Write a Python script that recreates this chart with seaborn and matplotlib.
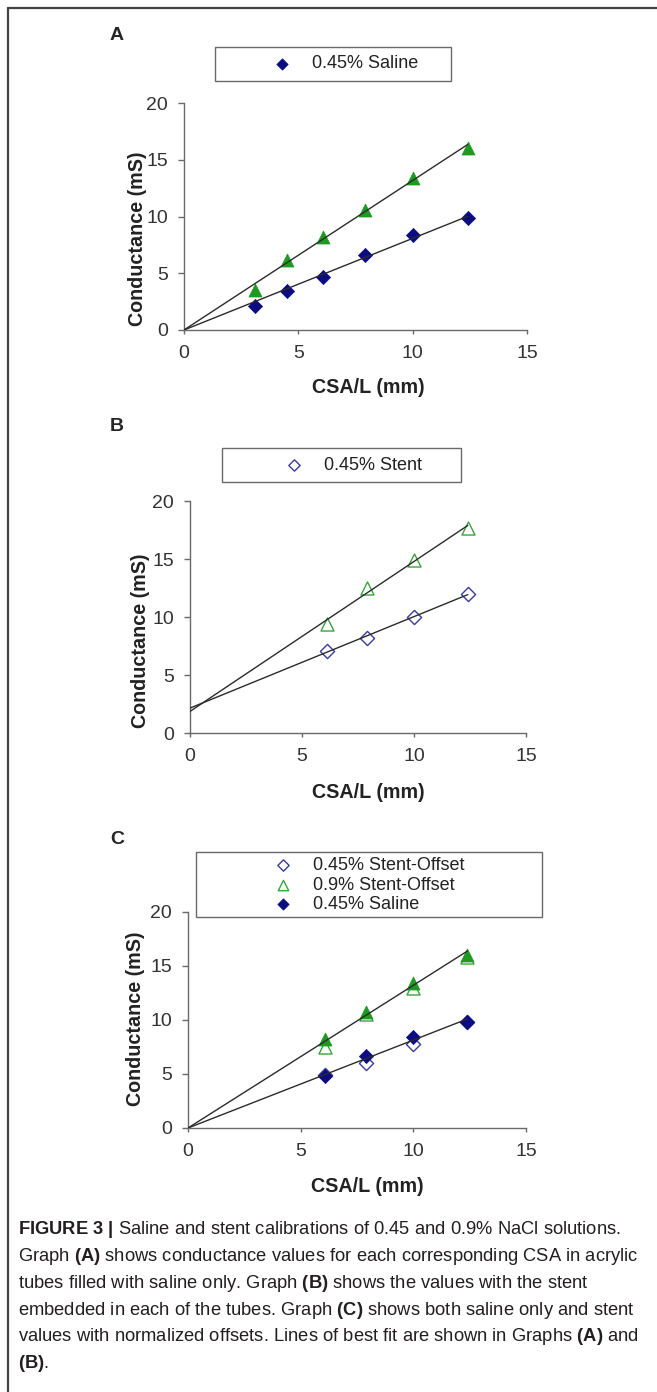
import numpy as np
import pandas as pd
import matplotlib
matplotlib.use('Agg')
import matplotlib.pyplot as plt
import seaborn as sns
from matplotlib.lines import Line2D
from matplotlib.patches import Rectangle

# data
# panel A - saline only
a_x = [3.1, 4.5, 6.1, 7.9, 10.0, 12.4]
a_saline045 = [2.1, 3.4, 4.7, 6.6, 8.4, 9.9]
a_saline09 = [3.5, 6.2, 8.2, 10.6, 13.4, 16.0]
# panel B - stent embedded
b_x = [6.1, 7.9, 10.0, 12.4]
b_stent045 = [7.1, 8.2, 10.0, 12.0]
b_stent09 = [9.4, 12.5, 14.9, 17.7]
# panel C - saline and stent with offsets
c_x = [6.1, 7.9, 10.0, 12.4]
c_offset045 = [4.9, 6.0, 7.8, 9.8]
c_offset09 = [7.5, 10.6, 13.0, 15.8]
c_saline045 = [4.8, 6.7, 8.4, 9.8]
c_saline09 = [8.2, 10.7, 13.4, 16.0]

x_ticks = [0, 5, 10, 15]
y_ticks = [0, 5, 10, 15, 20]

caption_lines = [
    r"$\mathbf{FIGURE\ 3\ |}$ Saline and stent calibrations of 0.45 and 0.9% NaCl solutions.",
    r"Graph $\mathbf{(A)}$ shows conductance values for each corresponding CSA in acrylic",
    r"tubes filled with saline only. Graph $\mathbf{(B)}$ shows the values with the stent",
    r"embedded in each of the tubes. Graph $\mathbf{(C)}$ shows both saline only and stent",
    r"values with normalized offsets. Lines of best fit are shown in Graphs $\mathbf{(A)}$ and",
    r"$\mathbf{(B)}$.",
]

sns.set_style('white')
plt.rcParams['font.family'] = ['Liberation Sans', 'DejaVu Sans']
plt.rcParams['mathtext.fontset'] = 'custom'
plt.rcParams['mathtext.rm'] = 'Liberation Sans'
plt.rcParams['mathtext.bf'] = 'Liberation Sans:bold'
plt.rcParams['mathtext.it'] = 'Liberation Sans:italic'

NAVY = '#0b0b82'
NAVY_OPEN = '#3b3b9e'
GREEN = '#1e9a22'
GREEN_OPEN = '#3aa33e'
LINE = '#2b2b2b'
W, H = 657, 1392

fig = plt.figure(figsize=(W / 100, H / 100), dpi=100)


def fx(px):
    return px / W


def fy(py):
    return 1 - py / H


def make_axes(left, right, bottom, top):
    return fig.add_axes([fx(left), fy(bottom), fx(right - left), (bottom - top) / H])


def style_axes(ax, ylab_x, ylab_y, xlab_x, xlab_y):
    ax.set_xlim(0, 15)
    ax.set_ylim(0, 20)
    ax.set_xticks(x_ticks)
    ax.set_yticks(y_ticks)
    sns.despine(ax=ax)
    for s in ['left', 'bottom']:
        ax.spines[s].set_color('#6a6a6a')
        ax.spines[s].set_linewidth(1.0)
    ax.tick_params(axis='y', direction='out', length=4.5, width=1, color='#6a6a6a',
                   pad=7, labelsize=14, labelcolor='#333333', left=True)
    ax.tick_params(axis='x', direction='out', length=3, width=1, color='#6a6a6a',
                   pad=8, labelsize=14, labelcolor='#333333', bottom=True)
    ax.set_xlabel('CSA/L (mm)', fontsize=14.2, fontweight='bold', color='#222222')
    ax.set_ylabel('Conductance (mS)', fontsize=14.2, fontweight='bold', color='#222222')
    ax.yaxis.set_label_coords(ylab_x, ylab_y)
    ax.xaxis.set_label_coords(xlab_x, xlab_y)
    ax.set_facecolor('none')


def fit_line(ax, x, y, through_origin):
    x = np.asarray(x)
    y = np.asarray(y)
    if through_origin:
        slope, icpt = (x * y).sum() / (x * x).sum(), 0.0
    else:
        slope, icpt = np.polyfit(x, y, 1)
    xs = np.array([0.0, x.max()])
    sns.lineplot(x=xs, y=slope * xs + icpt, ax=ax, color=LINE, lw=1.0, zorder=5)


def legend_box(left, right, top, bottom):
    fig.add_artist(Rectangle((fx(left), fy(bottom)), fx(right - left), (bottom - top) / H,
                             transform=fig.transFigure, fill=False,
                             edgecolor='#6a6a6a', lw=1.0))


filled_d = dict(marker='D', s=52, color=NAVY, edgecolor=NAVY, linewidth=0.5, zorder=3)
filled_t = dict(marker='^', s=88, color=GREEN, edgecolor=GREEN, linewidth=0.5, zorder=3)
open_d = dict(marker='D', s=52, facecolor='white', edgecolor=NAVY_OPEN, linewidth=1.0, zorder=3)
open_t = dict(marker='^', s=88, facecolor='white', edgecolor=GREEN_OPEN, linewidth=1.0, zorder=3)

# ---- panel A
axA = make_axes(184, 527, 330, 103)
sns.scatterplot(x=a_x, y=a_saline09, ax=axA, label='_nolegend_', **filled_t)
sns.scatterplot(x=a_x, y=a_saline045, ax=axA, label='0.45% Saline', **filled_d)
fit_line(axA, a_x, a_saline045, True)
fit_line(axA, a_x, a_saline09, True)
style_axes(axA, -0.108, 0.40, 0.536, -0.21)

# ---- panel B
axB = make_axes(190, 526, 733, 501)
sns.scatterplot(x=b_x, y=b_stent09, ax=axB, label='_nolegend_', **open_t)
sns.scatterplot(x=b_x, y=b_stent045, ax=axB, label='0.45% Stent', **open_d)
fit_line(axB, b_x, b_stent045, False)
fit_line(axB, b_x, b_stent09, False)
style_axes(axB, -0.119, 0.397, 0.53, -0.216)

# ---- panel C
axC = make_axes(188, 526, 1128, 912)
sns.scatterplot(x=c_x, y=c_offset045, ax=axC, label='0.45% Stent-Offset', **open_d)
sns.scatterplot(x=c_x, y=c_offset09, ax=axC, label='0.9% Stent-Offset', **open_t)
sns.scatterplot(x=c_x, y=c_saline09, ax=axC, label='_nolegend_', **filled_t)
sns.scatterplot(x=c_x, y=c_saline045, ax=axC, label='0.45% Saline', **filled_d)
fit_line(axC, c_x, c_saline045, True)
fit_line(axC, c_x, c_saline09, True)
style_axes(axC, -0.127, 0.505, 0.53, -0.227)

# legends: frameless entries + drawn box
for ax, order, xleft, ycen, box in [
    (axA, ['0.45% Saline'], 273, 64, (215, 451, 47, 81)),
    (axB, ['0.45% Stent'], 285, 465, (222, 461, 448, 482)),
    (axC, ['0.45% Stent-Offset', '0.9% Stent-Offset', '0.45% Saline'], 274, 885, (196, 542, 852, 917)),
]:
    h, l = ax.get_legend_handles_labels()
    lookup = dict(zip(l, h))
    leg = ax.legend([lookup[k] for k in order], order, loc='center left',
                    bbox_to_anchor=(fx(xleft), fy(ycen)), bbox_transform=fig.transFigure,
                    frameon=False, fontsize=13, handlelength=1.0, handletextpad=1.15,
                    borderpad=0, borderaxespad=0, labelspacing=0.15, markerscale=0.8)
    for t in leg.get_texts():
        t.set_color('#222222')
    legend_box(*box)

# panel letters
for letter, py in [('A', 35), ('B', 427), ('C', 840)]:
    fig.text(fx(117), fy(py), letter, fontsize=14, fontweight='bold', ha='center', va='center')

# caption
for i, line in enumerate(caption_lines):
    fig.text(fx(18), fy(1230 + i * 26.7), line, fontsize=13.2, color='#231f20', ha='left', va='center')

# frame lines (top and left)
fig.add_artist(Line2D([fx(8), 1.0], [fy(8), fy(8)], transform=fig.transFigure, color='#444444', lw=1.6))
fig.add_artist(Line2D([fx(8), fx(8)], [fy(8), 0.0], transform=fig.transFigure, color='#444444', lw=1.6))

fig.savefig('out.png', dpi=100, facecolor='white')
